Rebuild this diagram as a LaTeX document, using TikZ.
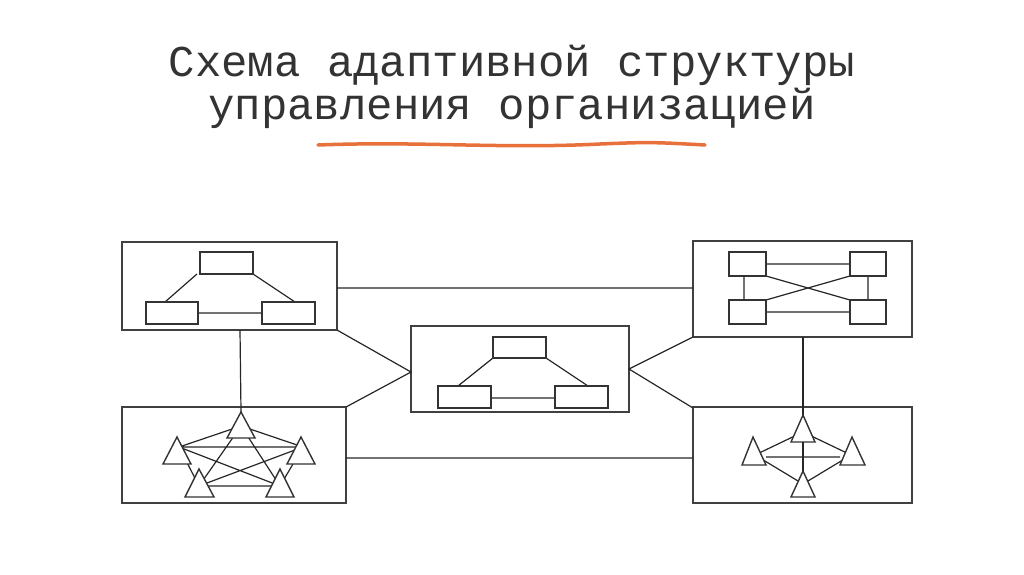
\documentclass[tikz,border=0pt]{standalone}
\usepackage{fontspec}
\newfontfamily\titlefont{Liberation Mono}
\begin{document}
\begin{tikzpicture}[x=1pt,y=-1pt,line width=1.3pt,
  frame/.style={draw=black!75,line width=1.8pt},
  rbox/.style={draw=black!80,fill=white,line width=1.4pt},
  tri/.style={draw=black!80,fill=white,line width=1.4pt},
  link/.style={draw=black!85,line width=1.2pt},
  ttl/.style={font=\titlefont\fontsize{44}{50}\selectfont,text=black!80}]
\useasboundingbox (0,0) rectangle (1024,574);
\node[ttl] (t1) at (512,65) {Схема адаптивной структуры};
\node[ttl] (t2) at (512,108) {управления организацией};
\draw[color={rgb,255:red,232;green,112;blue,58},line width=3.5pt,line cap=round]
  (318,145) .. controls (420,141) and (500,149) .. (600,144) .. controls (650,142) .. (705,145);
% frames
\draw[frame] (122,242) rectangle (337,330);
\draw[frame] (693,241) rectangle (912,337);
\draw[frame] (411,326) rectangle (629,412);
\draw[frame] (122,407) rectangle (346,503);
\draw[frame] (693,407) rectangle (912,503);
\coordinate (tlr) at (337,288); \coordinate (trl) at (693,288);
\coordinate (blr) at (346,458); \coordinate (brl) at (693,458);
\coordinate (tlc) at (337,330); \coordinate (blc) at (346,407);
\coordinate (cl) at (411,372); \coordinate (cr) at (629,369);
\coordinate (trc) at (693,337); \coordinate (brc) at (693,408);
\coordinate (tlb) at (240,330); \coordinate (trb) at (803,337);
\draw[link] (tlr)--(trl) (blr)--(brl) (tlc)--(cl)--(blc) (trc)--(cr)--(brc);
% TL
\draw[link] (197,274)--(165,302) (253,274)--(295,302) (198,313)--(262,313);
\draw[rbox] (200,252) rectangle (253,274);
\draw[rbox] (146,302) rectangle (198,324);
\draw[rbox] (262,302) rectangle (315,324);
% center
\draw[link] (493,358)--(458,386) (546,358)--(588,386) (491,398)--(555,398);
\draw[rbox] (493,337) rectangle (546,358);
\draw[rbox] (438,386) rectangle (491,408);
\draw[rbox] (555,386) rectangle (608,408);
% TR
\draw[link] (766,264)--(850,264) (766,312)--(850,312) (744,276)--(744,300) (868,276)--(868,300)
  (766,276)--(850,300) (766,300)--(850,276);
\draw[rbox] (729,252) rectangle (766,276);
\draw[rbox] (850,252) rectangle (886,276);
\draw[rbox] (729,300) rectangle (766,324);
\draw[rbox] (850,300) rectangle (886,324);
% BL
\coordinate (pa) at (241,426); \coordinate (pb) at (179,447); \coordinate (pc) at (303,447);
\coordinate (pd) at (199,486); \coordinate (pe) at (280,486);
\draw[link] (tlb)--(241,412);
\draw[link] (pa)--(pb) (pa)--(pc) (pa)--(pd) (pa)--(pe) (pb)--(pc) (pb)--(pd) (pb)--(pe)
  (pc)--(pd) (pc)--(pe) (pd)--(pe);
\draw[tri] (241,412)--(255,438)--(227,438)--cycle;
\draw[tri] (177,437)--(191,464)--(163,464)--cycle;
\draw[tri] (301,437)--(315,464)--(287,464)--cycle;
\draw[tri] (199,469)--(214,497)--(185,497)--cycle;
\draw[tri] (280,469)--(294,497)--(266,497)--cycle;
% BR
\coordinate (qa) at (803,432); \coordinate (qb) at (755,455); \coordinate (qc) at (851,455);
\coordinate (qd) at (803,484);
\draw[link] (trb)--(803,415);
\draw[link] (qa)--(qb) (qa)--(qc) (qb)--(qd) (qc)--(qd) (766,457)--(840,457) (qa)--(qd);
\draw[tri] (803,415)--(815,442)--(791,442)--cycle;
\draw[tri] (753,437)--(766,465)--(742,465)--cycle;
\draw[tri] (852,437)--(865,465)--(840,465)--cycle;
\draw[tri] (803,471)--(815,497)--(791,497)--cycle;
\draw[link] (803,442)--(803,471);
\end{tikzpicture}
\end{document}
